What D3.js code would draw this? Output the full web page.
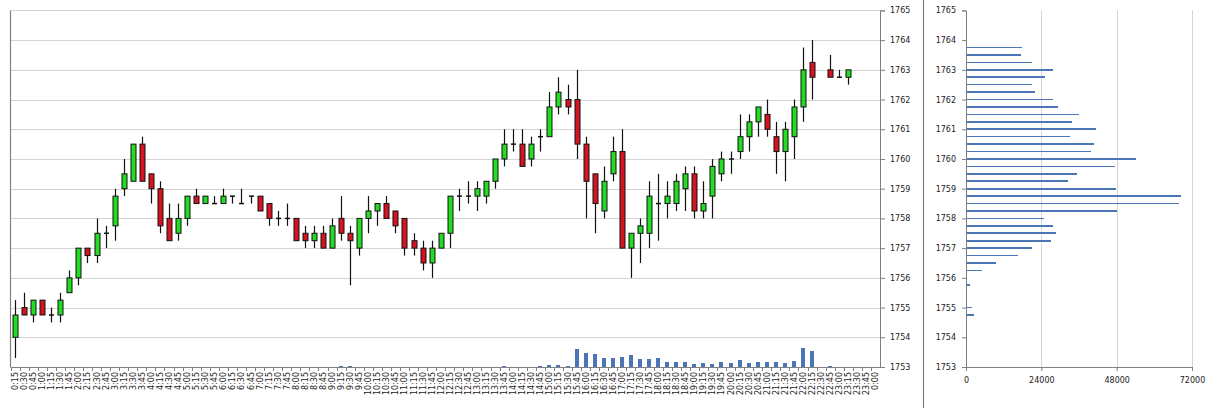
<!DOCTYPE html>
<html><head><meta charset="utf-8">
<script src="https://cdn.jsdelivr.net/npm/d3@7/dist/d3.min.js"></script>
<style>
body{margin:0;background:#fff}
svg{display:block}
text{font-family:"DejaVu Sans",sans-serif;font-size:8px;fill:#222}
</style>
</head><body><svg id="c" width="1211" height="408"></svg>
<script>
const times = ["0:15","0:30","0:45","1:00","1:15","1:30","1:45","2:00","2:15","2:30","2:45","3:00","3:15","3:30","3:45","4:00","4:15","4:30","4:45","5:00","5:15","5:30","5:45","6:00","6:15","6:30","6:45","7:00","7:15","7:30","7:45","8:00","8:15","8:30","8:45","9:00","9:15","9:30","9:45","10:00","10:15","10:30","10:45","11:00","11:15","11:30","11:45","12:00","12:15","12:30","12:45","13:00","13:15","13:30","13:45","14:00","14:15","14:30","14:45","15:00","15:15","15:30","15:45","16:00","16:15","16:30","16:45","17:00","17:15","17:30","17:45","18:00","18:15","18:30","18:45","19:00","19:15","19:30","19:45","20:00","20:15","20:30","20:45","21:00","21:15","21:30","21:45","22:00","22:15","22:30","22:45","23:00","23:15","23:30","23:45","0:00"];

const opens = [1754.0,1755.0,1754.75,1755.25,1754.75,1754.75,1755.5,1756.0,1757.0,1756.75,1757.5,1757.75,1759.0,1759.25,1760.5,1759.5,1759.0,1758.0,1757.5,1758.0,1758.75,1758.5,1758.5,1758.5,1758.75,1758.5,1758.75,1758.75,1758.5,1758.0,1758.0,1758.0,1757.5,1757.25,1757.5,1757.0,1758.0,1757.5,1757.0,1758.0,1758.25,1758.5,1758.25,1758.0,1757.25,1757.0,1756.5,1757.0,1757.5,1758.75,1758.75,1758.75,1758.75,1759.25,1760.0,1760.5,1760.5,1760.0,1760.75,1760.75,1761.75,1762.0,1762.0,1760.5,1759.5,1758.25,1759.5,1760.25,1757.0,1757.5,1757.5,1758.5,1758.5,1758.5,1759.0,1759.5,1758.25,1758.75,1759.5,1760.0,1760.25,1760.75,1761.25,1761.5,1760.75,1760.25,1760.75,1761.75,1763.25,null,1763.0,1762.75,1762.75,null,null,null];
const highs = [1755.25,1755.5,1755.25,1755.25,1755.0,1755.5,1756.25,1757.0,1757.0,1758.0,1757.75,1759.0,1760.0,1760.5,1760.75,1759.5,1759.25,1758.5,1758.5,1758.75,1759.0,1758.75,1758.75,1759.0,1758.75,1759.0,1758.75,1758.75,1758.5,1758.25,1758.5,1758.0,1757.75,1757.75,1757.75,1758.0,1758.75,1757.75,1758.0,1758.75,1758.5,1758.75,1758.25,1758.0,1757.5,1757.25,1757.25,1757.5,1758.75,1759.0,1759.25,1759.25,1759.25,1760.0,1761.0,1761.0,1761.0,1760.75,1761.0,1762.25,1762.75,1762.5,1763.0,1760.75,1759.5,1759.75,1760.75,1761.0,1757.5,1758.0,1759.25,1759.5,1759.25,1759.5,1759.75,1759.75,1759.25,1760.0,1760.25,1760.25,1761.5,1761.5,1761.75,1762.0,1761.25,1761.25,1762.0,1763.75,1764.0,null,1763.5,1763.0,1763.0,null,null,null];
const lows = [1753.3,1754.75,1754.5,1754.75,1754.5,1754.5,1755.5,1755.75,1756.5,1756.5,1757.0,1757.25,1758.75,1759.25,1759.25,1758.5,1757.5,1757.25,1757.25,1757.75,1758.5,1758.5,1758.5,1758.5,1758.5,1758.5,1758.5,1758.25,1757.75,1757.75,1757.75,1757.25,1757.0,1757.0,1757.0,1757.0,1757.25,1755.75,1756.75,1757.5,1757.75,1758.0,1757.5,1756.75,1756.75,1756.25,1756.0,1757.0,1757.0,1758.25,1758.5,1758.25,1758.5,1759.0,1759.75,1760.25,1759.75,1759.75,1760.25,1760.75,1761.5,1761.5,1760.0,1758.0,1757.5,1758.0,1759.25,1757.0,1756.0,1756.5,1757.0,1757.25,1758.0,1758.25,1758.25,1758.0,1758.0,1758.0,1759.25,1759.5,1760.0,1760.25,1760.75,1760.75,1759.5,1759.25,1760.0,1761.25,1762.0,null,1762.75,1762.75,1762.5,null,null,null];
const closes = [1754.75,1754.75,1755.25,1754.75,1754.75,1755.25,1756.0,1757.0,1756.75,1757.5,1757.5,1758.75,1759.5,1760.5,1759.25,1759.0,1757.75,1757.25,1758.0,1758.75,1758.5,1758.75,1758.5,1758.75,1758.75,1758.5,1758.75,1758.25,1758.0,1758.0,1758.0,1757.25,1757.25,1757.5,1757.0,1757.75,1757.5,1757.25,1758.0,1758.25,1758.5,1758.0,1757.75,1757.0,1757.0,1756.5,1757.0,1757.5,1758.75,1758.75,1758.75,1759.0,1759.25,1760.0,1760.5,1760.5,1759.75,1760.5,1760.75,1761.75,1762.25,1761.75,1760.5,1759.25,1758.5,1759.25,1760.25,1757.0,1757.5,1757.75,1758.75,1758.5,1758.75,1759.25,1759.5,1758.25,1758.5,1759.75,1760.0,1760.0,1760.75,1761.25,1761.75,1761.0,1760.25,1761.0,1761.75,1763.0,1762.75,null,1762.75,1762.75,1763.0,null,null,null];
const volumes = [0,0,0,0,0,0,0,0,0,0,0,0,0,0,0,0,0,0,0,0,0,0,0,0,0,0,0,0,0,0,0,0,0,0,0,0,4500,4500,0,0,0,0,0,0,0,0,0,0,0,0,0,0,0,0,3000,0,0,0,4500,10000,7500,5500,82000,61400,57000,39000,39000,43500,52400,34500,34500,39000,21000,21000,21000,12100,16600,12100,21000,16600,30000,16600,21000,21000,21000,16600,25500,86500,70400,0,5800,0,0,0,0,0];

const priceTicks = [1753,1754,1755,1756,1757,1758,1759,1760,1761,1762,1763,1764,1765];
const profileLevels = [1763.75,1763.5,1763.25,1763.0,1762.75,1762.5,1762.25,1762.0,1761.75,1761.5,1761.25,1761.0,1760.75,1760.5,1760.25,1760.0,1759.75,1759.5,1759.25,1759.0,1758.75,1758.5,1758.25,1758.0,1757.75,1757.5,1757.25,1757.0,1756.75,1756.5,1756.25,1756.0,1755.75,1755.5,1755.25,1755.0,1754.75,1754.5,1754.25,1754.0,1753.75,1753.5,1753.25,1753.0];
const profileValues = [17900,17500,21000,27600,25200,21000,22000,27700,29300,36000,33800,41400,33200,40900,39800,54000,47500,35400,32500,47800,68500,67700,48100,24900,27700,28700,27200,21000,16600,9400,5100,400,1200,300,200,2000,2500,200,150,150,150,150,150,150];
const profileTicks = [0,24000,48000,72000];

const svg = d3.select("#c");
const L = 10.5, R = 880, T = 10.4, B = 367;
const x = d3.scaleBand().domain(times).range([L, R]).padding(0);
const y = d3.scaleLinear().domain([1753, 1765]).range([B, T]);
const yv = d3.scaleLinear().domain([0, 1600000]).range([B, T]);

// gridlines
svg.append("g").attr("transform", `translate(${R},0)`)
  .call(d3.axisLeft(y).tickValues(priceTicks).tickSize(R - L).tickFormat(""))
  .call(g => g.select(".domain").remove())
  .call(g => g.selectAll("line").attr("stroke", "#d4d4d4").attr("shape-rendering", "crispEdges"));

// volume bars
const bw = x.bandwidth();
const candles = times.map((t, i) => ({t, o: opens[i], h: highs[i], l: lows[i], c: closes[i], v: volumes[i]}));
svg.append("g").selectAll("rect").data(candles.filter(d => d.v > 0)).join("rect")
  .attr("x", d => x(d.t) + bw / 2 - 2)
  .attr("width", 4)
  .attr("y", d => yv(d.v))
  .attr("height", d => B - yv(d.v))
  .attr("fill", "#4a76b8")
  .attr("shape-rendering", "crispEdges");

// candles
const cd = candles.filter(d => d.o != null);
const cg = svg.append("g");
cg.selectAll("line.w").data(cd).join("line").attr("class", "w")
  .attr("x1", d => Math.round(x(d.t) + bw / 2) + 0.5)
  .attr("x2", d => Math.round(x(d.t) + bw / 2) + 0.5)
  .attr("y1", d => y(d.h)).attr("y2", d => y(d.l))
  .attr("stroke", "#111").attr("stroke-width", 1.2);
cg.selectAll("rect").data(cd.filter(d => d.o !== d.c)).join("rect")
  .attr("x", d => Math.round(x(d.t) + bw / 2) - 2)
  .attr("width", 5)
  .attr("y", d => y(Math.max(d.o, d.c)))
  .attr("height", d => Math.abs(y(d.o) - y(d.c)))
  .attr("fill", d => d.c > d.o ? "#22dd22" : "#d41420")
  .attr("stroke", "#111").attr("stroke-width", 1);
cg.selectAll("line.d").data(cd.filter(d => d.o === d.c)).join("line").attr("class", "d")
  .attr("x1", d => Math.round(x(d.t) + bw / 2) - 2)
  .attr("x2", d => Math.round(x(d.t) + bw / 2) + 3)
  .attr("y1", d => y(d.o)).attr("y2", d => y(d.o))
  .attr("stroke", "#111").attr("stroke-width", 1.5);

// left border line
svg.append("line").attr("x1", L).attr("x2", L).attr("y1", T).attr("y2", B)
  .attr("stroke", "#808080").attr("stroke-width", 1.2);

// x axis
const xg = svg.append("g");
xg.append("line").attr("x1", L).attr("x2", R).attr("y1", B + 0.5).attr("y2", B + 0.5).attr("stroke", "#808080");
xg.selectAll("line.t").data(times).join("line").attr("class", "t")
  .attr("x1", d => Math.round(x(d)) + 0.5).attr("x2", d => Math.round(x(d)) + 0.5)
  .attr("y1", B).attr("y2", B + 4).attr("stroke", "#808080");
xg.selectAll("text").data(times).join("text")
  .attr("transform", d => `translate(${x(d) + bw / 2 + 3},${B + 5}) rotate(-90)`)
  .attr("text-anchor", "end")
  .text(d => d);

// right y axis
svg.append("g").attr("transform", `translate(${R},0)`)
  .call(d3.axisRight(y).tickValues(priceTicks).tickSize(5).tickPadding(5).tickFormat(d3.format("d")))
  .call(g => g.select(".domain").attr("stroke", "#808080"))
  .call(g => g.selectAll("line").attr("stroke", "#808080"))
  .call(g => g.selectAll("text").attr("fill", "#222").style("font-family", "DejaVu Sans").style("font-size", "8px"));

// separator
svg.append("line").attr("x1", 923.5).attr("x2", 923.5).attr("y1", 0).attr("y2", 408)
  .attr("stroke", "#6e6e6e").attr("stroke-width", 1);

// profile panel
const PL = 966, PR = 1192;
const xp = d3.scaleLinear().domain([0, 72000]).range([PL, PR]);
svg.append("g").attr("transform", `translate(0,${T})`)
  .call(d3.axisBottom(xp).tickValues(profileTicks.slice(1)).tickSize(B - T).tickFormat(""))
  .call(g => g.select(".domain").remove())
  .call(g => g.selectAll("line").attr("stroke", "#d4d4d4").attr("shape-rendering", "crispEdges"));

svg.append("g").selectAll("rect").data(profileLevels.map((p, i) => ({p, v: profileValues[i]}))).join("rect")
  .attr("x", PL)
  .attr("y", d => y(d.p) - 0.8)
  .attr("height", 1.6)
  .attr("width", d => xp(d.v) - PL)
  .attr("fill", "#4a76b8")
  .attr("shape-rendering", "crispEdges");

svg.append("g").attr("transform", `translate(0,${B})`)
  .call(d3.axisBottom(xp).tickValues(profileTicks).tickSize(4).tickPadding(6).tickFormat(d3.format("d")))
  .call(g => g.select(".domain").attr("stroke", "#808080"))
  .call(g => g.selectAll("line").attr("stroke", "#808080"))
  .call(g => g.selectAll("text").attr("fill", "#222").style("font-family", "DejaVu Sans").style("font-size", "8px"));

svg.append("g").attr("transform", `translate(${PL},0)`)
  .call(d3.axisLeft(y).tickValues(priceTicks).tickSize(4).tickPadding(6).tickFormat(d3.format("d")))
  .call(g => g.select(".domain").attr("stroke", "#808080"))
  .call(g => g.selectAll("line").attr("stroke", "#808080"))
  .call(g => g.selectAll("text").attr("fill", "#222").style("font-family", "DejaVu Sans").style("font-size", "8px"));
</script>
</body></html>
